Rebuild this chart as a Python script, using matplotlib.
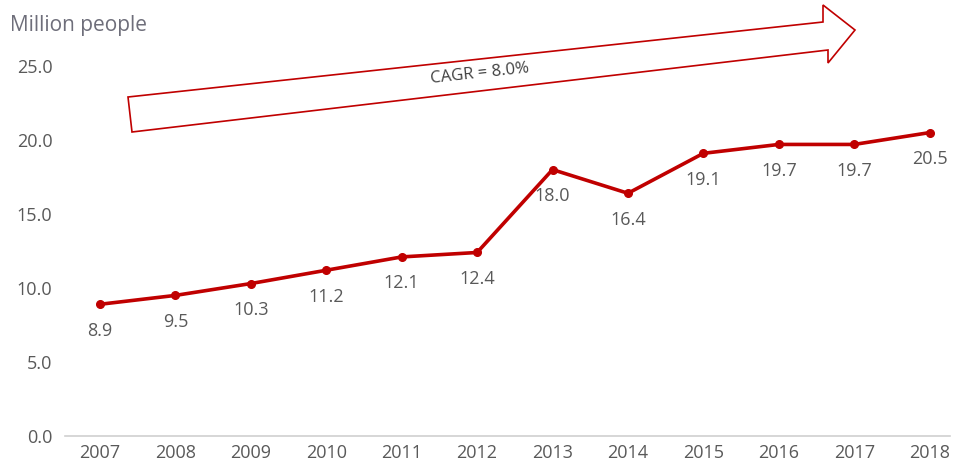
import matplotlib.pyplot as plt
from matplotlib.patches import Polygon
from matplotlib.transforms import IdentityTransform

plt.rcParams['font.family'] = ['Open Sans', 'DejaVu Sans']

years = [2007, 2008, 2009, 2010, 2011, 2012, 2013, 2014, 2015, 2016, 2017, 2018]
people = [8.9, 9.5, 10.3, 11.2, 12.1, 12.4, 18.0, 16.4, 19.1, 19.7, 19.7, 20.5]
y_ticks = [0, 5, 10, 15, 20, 25]
cagr_text = "CAGR = 8.0%"

red = "#C00000"
grey = "#595959"

W, H = 958, 468
fig = plt.figure(figsize=(W / 100, H / 100), dpi=100)
ax = fig.add_axes([65 / W, 32 / H, 885 / W, 370 / H])

ax.plot(years, people, color=red, lw=2.6, marker="o", ms=5.5, zorder=3)
for x, v in zip(years, people):
    ax.annotate(f"{v:.1f}", (x, v), xytext=(0, -19), textcoords="offset points",
                ha="center", va="center", fontsize=13, color=grey)

ax.set_xlim(2006.536, 2018.27)
ax.set_ylim(0, 25)
ax.set_xticks(years)
ax.set_xticklabels([str(y) for y in years])
ax.set_yticks(y_ticks)
ax.set_yticklabels([f"{t:.1f}" for t in y_ticks])
ax.tick_params(axis="both", length=0, labelsize=13, labelcolor=grey)
ax.tick_params(axis="y", pad=9)
ax.tick_params(axis="x", pad=6)
for s in ["top", "right", "left"]:
    ax.spines[s].set_visible(False)
ax.spines["bottom"].set_color("#D0D0D0")
ax.spines["bottom"].set_linewidth(1.2)

fig.text(10 / W, 1 - 25 / H, "Million people", fontsize=15, color="#6E6E7A",
         ha="left", va="center")

# CAGR arrow, outline drawn in pixel units (origin bottom-left)
pts_top = [(128, 97), (823, 22), (823, 5), (855, 30), (828, 63), (828, 50), (132, 132)]
arrow = Polygon([(px, H - py) for px, py in pts_top], closed=True,
                facecolor="white", edgecolor=red, lw=1.2,
                transform=IdentityTransform(), clip_on=False, zorder=2)
fig.patches.append(arrow)
fig.text(480 / W, 1 - 74 / H, cagr_text, fontsize=12, color="#404040",
         rotation=6.2, ha="center", va="center")

fig.savefig("out.png", dpi=100)
